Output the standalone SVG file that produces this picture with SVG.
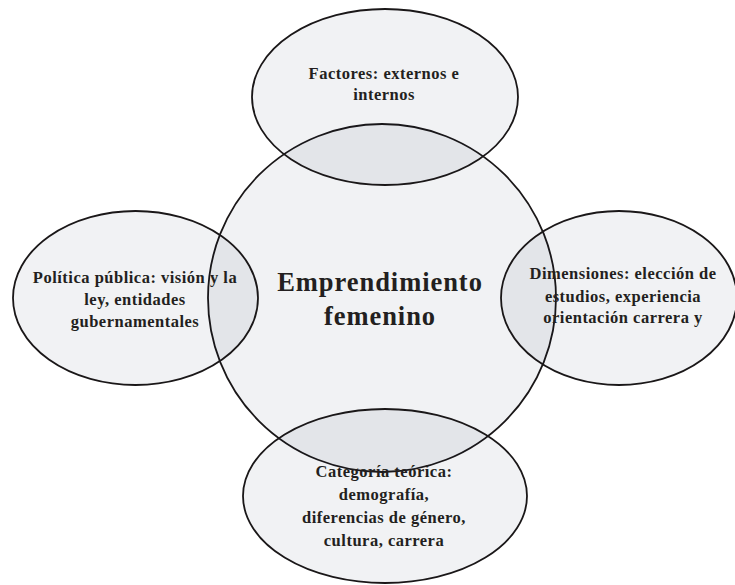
<svg xmlns="http://www.w3.org/2000/svg" width="735" height="585" viewBox="0 0 735 585">
<style>
.shape{fill:rgb(22,38,71);fill-opacity:0.06;stroke:#1a1718;stroke-width:1.8}
.lbl{font-family:"Liberation Serif","Times New Roman",serif;font-weight:bold;font-size:16.5px;letter-spacing:0.5px;fill:#231f20;text-anchor:middle}
.main{font-size:26.5px;letter-spacing:0.95px}
</style>
<rect width="735" height="585" fill="#fff"/>
<g id="center">
<circle class="shape" cx="382" cy="298" r="174"/>
<text class="lbl main" x="380" y="291">Emprendimiento</text>
<text class="lbl main" x="380" y="325">femenino</text>
</g>
<g id="top">
<ellipse class="shape" cx="385" cy="97" rx="133" ry="88"/>
<text class="lbl" x="384" y="79">Factores: externos e</text>
<text class="lbl" x="384" y="100">internos</text>
</g>
<g id="left">
<ellipse class="shape" cx="135.5" cy="298" rx="122.5" ry="87"/>
<text class="lbl" x="135" y="283">Política pública: visión y la</text>
<text class="lbl" x="135" y="305">ley, entidades</text>
<text class="lbl" x="135" y="327">gubernamentales</text>
</g>
<g id="right">
<ellipse class="shape" cx="619" cy="298" rx="118" ry="87"/>
<text class="lbl" x="623" y="279">Dimensiones: elección de</text>
<text class="lbl" x="623" y="302">estudios, experiencia</text>
<text class="lbl" x="623" y="323">orientación carrera y</text>
</g>
<g id="bottom">
<ellipse class="shape" cx="385" cy="496" rx="142" ry="87"/>
<text class="lbl" x="384" y="477">Categoría teórica:</text>
<text class="lbl" x="384" y="500">demografía,</text>
<text class="lbl" x="384" y="523">diferencias de género,</text>
<text class="lbl" x="384" y="546">cultura, carrera</text>
</g>
<g id="connectors"/>
</svg>
